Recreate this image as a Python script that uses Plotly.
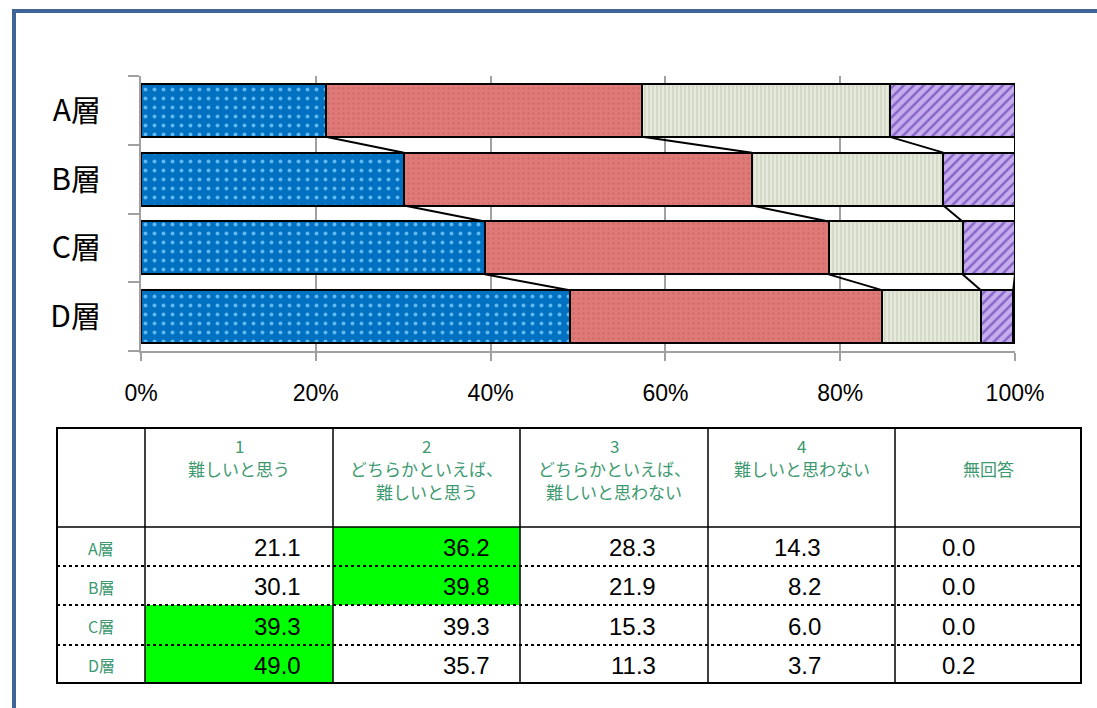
import plotly.graph_objects as go
import numpy as np

# ---------------- data ----------------
categories = ["A層", "B層", "C層", "D層"]
series_names = ["1 難しいと思う", "2 どちらかといえば、難しいと思う",
                "3 どちらかといえば、難しいと思わない", "4 難しいと思わない", "無回答"]
header_labels = [["1", "難しいと思う"],
                 ["2", "どちらかといえば、", "難しいと思う"],
                 ["3", "どちらかといえば、", "難しいと思わない"],
                 ["4", "難しいと思わない"],
                 ["", "無回答"]]
s1 = [21.1, 30.1, 39.3, 49.0]
s2 = [36.2, 39.8, 39.3, 35.7]
s3 = [28.3, 21.9, 15.3, 11.3]
s4 = [14.3, 8.2, 6.0, 3.7]
s5 = [0.0, 0.0, 0.0, 0.2]
x_ticks = [0, 20, 40, 60, 80, 100]
x_tick_labels = ["0%", "20%", "40%", "60%", "80%", "100%"]

series = [s1, s2, s3, s4, s5]

# ---------------- styles ----------------
W, H = 1097, 708
PX0, PX1, PY0, PY1 = 141, 1015, 76, 351  # plot area in pixels
BAR_W = 0.77
GREEN_TXT = "#3d9970"
styles = [
    dict(bg="#0070C0", fg="#5FB8F0", shape=".", size=9, solidity=0.15),
    dict(bg="#E07A78", fg="#CF6D6B", shape=".", size=5, solidity=0.2),
    dict(bg="#D4DAC7", fg="#EEF1E6", shape="|", size=4, solidity=0.35),
    dict(bg="#C6AEEE", fg="#8663C6", shape="/", size=7, solidity=0.35),
    dict(bg="#FFFFFF", fg="#FFFFFF", shape="", size=8, solidity=0.3),
]


def px(x):
    return (x - PX0) / (PX1 - PX0)


def py(y):
    return (PY1 - y) / (PY1 - PY0)


fig = go.Figure()
ypos = list(range(len(categories)))
for name, vals, st in zip(series_names, series, styles):
    fig.add_trace(go.Bar(
        y=ypos, x=vals, orientation="h", name=name, width=BAR_W,
        marker=dict(color=st["bg"], line=dict(color="black", width=2),
                    pattern=dict(shape=st["shape"], fgcolor=st["fg"], bgcolor=st["bg"],
                                 size=st["size"], solidity=st["solidity"], fillmode="replace")),
        hoverinfo="skip", showlegend=False))

# series connector lines (computed from normalized cumulative data)
arr = np.array(series)  # (5, 4)
tot = arr.sum(axis=0)
cum = np.cumsum(arr, axis=0) / tot * 100
shapes = []
for k in range(arr.shape[0]):
    for i in range(len(categories) - 1):
        shapes.append(dict(type="line", xref="x", yref="y",
                           x0=cum[k, i], y0=i + BAR_W / 2,
                           x1=cum[k, i + 1], y1=i + 1 - BAR_W / 2,
                           line=dict(color="black", width=2), layer="above"))

# outer blue frame
shapes.append(dict(type="rect", xref="paper", yref="paper",
                   x0=px(14), y0=py(11), x1=px(1120), y1=py(730),
                   line=dict(color="#3F6496", width=4), fillcolor="rgba(0,0,0,0)"))

# ---------------- table (drawn below chart) ----------------
col_edges = [57, 145, 333, 520, 708, 895, 1081]
row_edges = [428, 527, 566, 605, 645, 683]
val_right = [303, 492, 658, 823, 977]
HDR_LINE0, HDR_STEP = 445, 23
annotations = []

# highlight row maxima
for i in range(len(categories)):
    j = int(np.argmax(arr[:, i]))
    shapes.append(dict(type="rect", xref="paper", yref="paper",
                       x0=px(col_edges[j + 1]), x1=px(col_edges[j + 2]),
                       y0=py(row_edges[i + 1]), y1=py(row_edges[i + 2]),
                       fillcolor="#00FF00", line=dict(width=0)))
# outer border
shapes.append(dict(type="rect", xref="paper", yref="paper",
                   x0=px(col_edges[0]), x1=px(col_edges[-1]),
                   y0=py(row_edges[0]), y1=py(row_edges[-1]),
                   line=dict(color="black", width=2), fillcolor="rgba(0,0,0,0)"))
for cx in col_edges[1:-1]:
    shapes.append(dict(type="line", xref="paper", yref="paper",
                       x0=px(cx), x1=px(cx), y0=py(row_edges[0]), y1=py(row_edges[-1]),
                       line=dict(color="black", width=1.5)))
shapes.append(dict(type="line", xref="paper", yref="paper",
                   x0=px(col_edges[0]), x1=px(col_edges[-1]),
                   y0=py(row_edges[1]), y1=py(row_edges[1]),
                   line=dict(color="black", width=1.5)))
for ry in row_edges[2:-1]:
    shapes.append(dict(type="line", xref="paper", yref="paper",
                       x0=px(col_edges[0]), x1=px(col_edges[-1]), y0=py(ry), y1=py(ry),
                       line=dict(color="black", width=2, dash="dot")))

# header texts (one annotation per line)
for j, lines in enumerate(header_labels):
    for k, line in enumerate(lines):
        if not line:
            continue
        annotations.append(dict(xref="paper", yref="paper",
                                x=px((col_edges[j + 1] + col_edges[j + 2]) / 2),
                                y=py(HDR_LINE0 + HDR_STEP * k),
                                xanchor="center", yanchor="middle", text=line, showarrow=False,
                                font=dict(family="Noto Sans CJK JP", size=17, color=GREEN_TXT)))
# row labels and values
for i, cat in enumerate(categories):
    yc = py((row_edges[i + 1] + row_edges[i + 2]) / 2 + 1)
    annotations.append(dict(xref="paper", yref="paper",
                            x=px((col_edges[0] + col_edges[1]) / 2), y=yc,
                            xanchor="center", yanchor="middle", text=cat, showarrow=False,
                            font=dict(family="Noto Sans CJK JP", size=16, color=GREEN_TXT)))
    for j in range(arr.shape[0]):
        annotations.append(dict(xref="paper", yref="paper",
                                x=px(val_right[j]), y=yc, xanchor="right", yanchor="middle",
                                text=f"{arr[j, i]:.1f}", showarrow=False,
                                font=dict(family="Liberation Sans", size=24, color="black")))

fig.update_layout(
    width=W, height=H,
    margin=dict(l=PX0, r=W - PX1, t=PY0, b=H - PY1, pad=0),
    paper_bgcolor="white", plot_bgcolor="white",
    barmode="stack", barnorm="percent", bargap=0.23,
    shapes=shapes, annotations=annotations,
    xaxis=dict(range=[0, 100], tickvals=x_ticks, ticktext=x_tick_labels,
               showgrid=True, gridcolor="#A0A0A0", gridwidth=1.5,
               showline=True, linecolor="#A0A0A0", linewidth=2,
               ticks="outside", ticklen=8, tickwidth=2, tickcolor="#A0A0A0",
               ticklabelstandoff=12, zeroline=False,
               tickfont=dict(family="Liberation Sans Narrow, Liberation Sans", size=23, color="black")),
    yaxis=dict(range=[len(categories) - 0.5, -0.5], tickvals=ypos, ticktext=categories,
               showgrid=False, zeroline=False, showline=True, linecolor="#A0A0A0", linewidth=2,
               ticks="", ticklabelstandoff=32,
               minor=dict(tickvals=[i - 0.5 for i in range(len(categories) + 1)],
                          ticks="outside", ticklen=11, tickwidth=2, tickcolor="#A0A0A0",
                          showgrid=False),
               tickfont=dict(family="Noto Sans CJK JP", size=30, color="black")),
)

fig.write_html("out.html")
